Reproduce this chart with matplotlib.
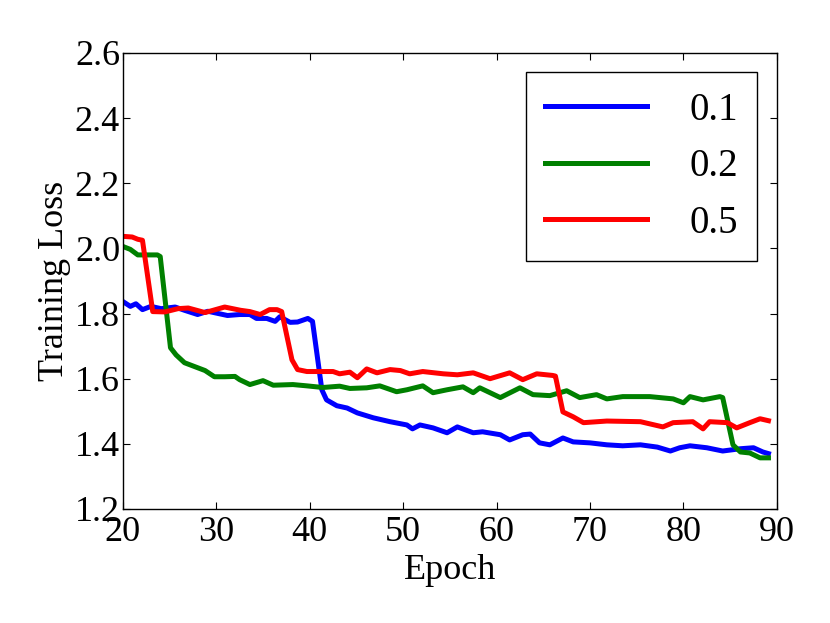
import matplotlib
matplotlib.use("Agg")
import matplotlib.pyplot as plt

# readings (epoch, training loss)
epochs_01 = [20, 20.8, 21.4, 22.1, 23.0, 24.1, 25.6, 26.6, 28.0, 29.1,
             31.2, 32.5, 33.6, 34.3, 35.4, 36.3, 36.8, 37.9, 38.7, 39.8,
             40.3, 41.3, 41.8, 42.9, 44.0, 45.1, 46.8, 48.6, 50.4, 51.0,
             51.8, 53.2, 54.7, 55.8, 57.5, 58.5, 60.4, 61.4, 62.8, 63.6,
             64.6, 65.7, 67.1, 68.2, 70.0, 71.8, 73.5, 75.4, 77.2, 78.6,
             79.6, 80.7, 82.5, 84.2, 86.1, 87.5, 88.5, 89.1]
loss_01 = [1.837, 1.822, 1.83, 1.812, 1.822, 1.815, 1.82, 1.81, 1.797, 1.807,
           1.794, 1.797, 1.797, 1.785, 1.785, 1.776, 1.79, 1.773, 1.774, 1.785,
           1.776, 1.566, 1.535, 1.517, 1.51, 1.495, 1.48, 1.468, 1.458, 1.446,
           1.458, 1.449, 1.434, 1.452, 1.434, 1.437, 1.428, 1.412, 1.428, 1.43,
           1.403, 1.397, 1.418, 1.406, 1.403, 1.397, 1.394, 1.397, 1.39, 1.378,
           1.388, 1.394, 1.388, 1.378, 1.385, 1.388, 1.375, 1.37]

epochs_02 = [20, 20.8, 21.6, 23.7, 24.0, 25.1, 25.7, 26.6, 27.7, 28.8,
             29.8, 30.9, 32.0, 32.5, 33.6, 35.0, 36.1, 38.2, 39.7, 41.4,
             43.2, 44.3, 46.1, 47.5, 49.3, 50.4, 52.1, 53.2, 54.7, 56.4,
             57.5, 58.2, 60.4, 62.5, 63.9, 65.7, 67.5, 68.9, 70.7, 71.8,
             73.5, 76.4, 78.9, 80.0, 80.7, 82.1, 83.9, 84.2, 85.3, 86.1,
             87.1, 88.2, 89.1]
loss_02 = [2.006, 1.997, 1.98, 1.98, 1.975, 1.695, 1.673, 1.649, 1.637, 1.625,
           1.606, 1.606, 1.607, 1.597, 1.582, 1.594, 1.58, 1.582, 1.578, 1.573,
           1.577, 1.57, 1.572, 1.578, 1.56, 1.566, 1.578, 1.557, 1.566, 1.575,
           1.557, 1.572, 1.542, 1.572, 1.551, 1.548, 1.563, 1.542, 1.551, 1.538,
           1.545, 1.545, 1.538, 1.526, 1.545, 1.535, 1.545, 1.542, 1.397, 1.375,
           1.372, 1.357, 1.357]

epochs_05 = [20, 21.0, 21.6, 22.1, 23.2, 24.5, 25.9, 27.0, 28.8, 30.9,
             32.6, 33.6, 34.7, 35.7, 36.5, 37.0, 38.1, 38.7, 39.7, 41.1,
             42.5, 43.2, 44.3, 45.1, 46.1, 47.2, 48.6, 49.7, 50.7, 52.1,
             54.3, 55.8, 57.5, 59.3, 61.4, 62.8, 64.3, 66.0, 66.3, 67.1,
             68.2, 69.3, 71.8, 75.4, 77.8, 78.9, 81.0, 82.1, 82.8, 84.7,
             85.7, 87.1, 88.2, 89.1]
loss_05 = [2.037, 2.035, 2.028, 2.025, 1.806, 1.805, 1.815, 1.817, 1.803, 1.82,
           1.81, 1.806, 1.797, 1.812, 1.812, 1.806, 1.658, 1.628, 1.622, 1.622,
           1.622, 1.615, 1.62, 1.603, 1.63, 1.618, 1.628, 1.625, 1.615, 1.622,
           1.615, 1.612, 1.618, 1.60, 1.618, 1.597, 1.615, 1.61, 1.608, 1.498,
           1.483, 1.465, 1.47, 1.468, 1.452, 1.465, 1.468, 1.446, 1.468, 1.465,
           1.449, 1.465, 1.477, 1.471]

series = [
    ("0.1", epochs_01, loss_01, (0, 0, 1)),
    ("0.2", epochs_02, loss_02, (0, 0.5, 0)),
    ("0.5", epochs_05, loss_05, (1, 0, 0)),
]

plt.rcParams['font.family'] = ['Liberation Serif', 'DejaVu Serif']

fig = plt.figure(figsize=(8.3, 6.23), dpi=100)
ax = fig.add_axes([0.148, 0.183, 0.788, 0.732])

for label, x, y, c in series:
    ax.plot(x, y, color=c, linewidth=3.6, label=label)

ax.set_xlim(20, 90)
ax.set_ylim(1.2, 2.6)
ax.set_xticks(range(20, 91, 10))
ax.set_yticks([1.2, 1.4, 1.6, 1.8, 2.0, 2.2, 2.4, 2.6])
ax.set_yticklabels(["1.2", "1.4", "1.6", "1.8", "2.0", "2.2", "2.4", "2.6"])
ax.tick_params(direction='in', top=True, right=True, length=5, width=0.8,
               labelsize=26)
ax.tick_params(axis='x', pad=5)
ax.tick_params(axis='y', pad=2)
for sp in ax.spines.values():
    sp.set_linewidth(1.0)

ax.set_xlabel("Epoch", fontsize=26, labelpad=4)
ax.set_ylabel("Training Loss", fontsize=26, labelpad=3)

leg = ax.legend(loc='upper right', fontsize=28, fancybox=False, framealpha=1,
                edgecolor='black', borderaxespad=0.5, handlelength=2.6,
                handletextpad=1.1, borderpad=0.5, labelspacing=0.5)
leg.get_frame().set_linewidth(1.0)

fig.savefig("out.png", dpi=100)
